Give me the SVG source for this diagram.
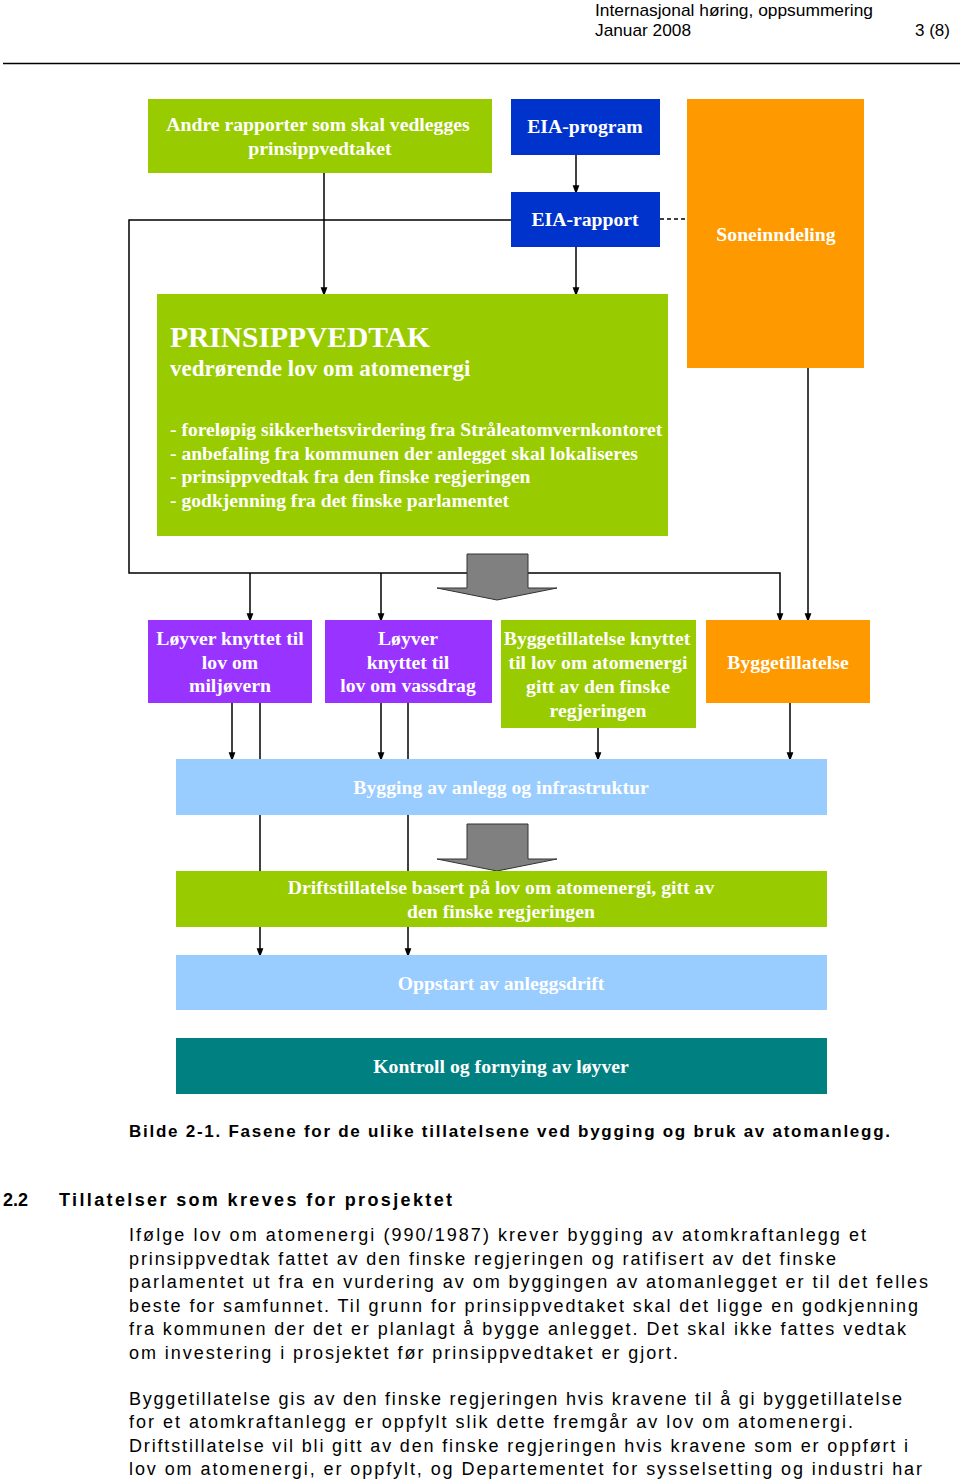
<svg xmlns="http://www.w3.org/2000/svg" width="960" height="1483" viewBox="0 0 960 1483">
<style>
.hdr{font-family:"Liberation Sans",Arial,sans-serif;font-size:17px;fill:#000}
.bx{font-family:"Liberation Serif","Times New Roman",serif;font-weight:bold;font-size:19.7px;fill:#fff;text-anchor:middle}
.bl{font-family:"Liberation Serif","Times New Roman",serif;font-weight:bold;font-size:19.6px;fill:#fff}
.ttl{font-family:"Liberation Serif","Times New Roman",serif;font-weight:bold;font-size:29.5px;fill:#fff}
.sub{font-family:"Liberation Serif","Times New Roman",serif;font-weight:bold;font-size:23px;fill:#fff}
.ln{stroke:#000;stroke-width:1.5;fill:none}
.ar{stroke:#000;stroke-width:1.5;fill:none;marker-end:url(#ah)}
.blk{fill:#808080;stroke:#333;stroke-width:1}
.body{font-family:"Liberation Sans",Arial,sans-serif;font-size:18px;fill:#000}
.cap{font-family:"Liberation Sans",Arial,sans-serif;font-size:17px;font-weight:bold;fill:#000}
.h2{font-family:"Liberation Sans",Arial,sans-serif;font-size:18px;font-weight:bold;fill:#000}
.green{fill:#99CC00}.blue{fill:#0033CC}.orange{fill:#FF9900}.purple{fill:#9933FF}.lblue{fill:#99CCFF}.teal{fill:#008080}
</style>
<defs>
<marker id="ah" markerUnits="userSpaceOnUse" markerWidth="9" markerHeight="12" refX="9" refY="4.5" orient="auto" viewBox="0 0 12 9">
<path d="M0,0 L12,4.5 L0,9 z" fill="#000"/>
</marker>
</defs>
<rect width="960" height="1483" fill="#fff"/>
<g id="header">
<text class="hdr" x="595" y="16" textLength="278" lengthAdjust="spacingAndGlyphs">Internasjonal høring, oppsummering</text>
<text class="hdr" x="595" y="36" textLength="96" lengthAdjust="spacingAndGlyphs">Januar 2008</text>
<text class="hdr" x="950" y="36" text-anchor="end">3 (8)</text>
<line x1="3" y1="63.5" x2="960" y2="63.5" stroke="#000" stroke-width="1.5"/>
</g>
<g id="connectors">
<line class="ar" x1="576" y1="155" x2="576" y2="192"/>
<line class="ar" x1="324" y1="173" x2="324" y2="294"/>
<line class="ar" x1="576" y1="247" x2="576" y2="294"/>
<line class="ln" x1="660" y1="219" x2="687" y2="219" stroke-dasharray="4,3"/>
<path class="ar" d="M511,220 H129 V573 H780 V620"/>
<line class="ar" x1="250" y1="573" x2="250" y2="620"/>
<line class="ar" x1="381" y1="573" x2="381" y2="620"/>
<line class="ar" x1="808" y1="368" x2="808" y2="620"/>
<line class="ar" x1="232" y1="703" x2="232" y2="759"/>
<line class="ar" x1="260" y1="703" x2="260" y2="955"/>
<line class="ar" x1="381" y1="703" x2="381" y2="759"/>
<line class="ar" x1="408" y1="703" x2="408" y2="955"/>
<line class="ar" x1="598" y1="728" x2="598" y2="759"/>
<line class="ar" x1="790" y1="703" x2="790" y2="759"/>
<polygon class="blk" points="467,554 528,554 528,588 557,588 497,600 437,588 467,588"/>
<polygon class="blk" points="467,824 528,824 528,859 557,859 497,871 437,859 467,859"/>
</g>
<g id="n-andre">
<rect class="green" x="148" y="99" width="344" height="74"/>
<text class="bx" x="318" y="131">Andre rapporter som skal vedlegges</text>
<text class="bx" x="320" y="155">prinsippvedtaket</text>
</g>
<g id="n-eiaprogram">
<rect class="blue" x="511" y="99" width="149" height="56"/>
<text class="bx" x="585" y="133">EIA-program</text>
</g>
<g id="n-eiarapport">
<rect class="blue" x="511" y="192" width="149" height="55"/>
<text class="bx" x="585" y="226">EIA-rapport</text>
</g>
<g id="n-sone">
<rect class="orange" x="687" y="99" width="177" height="269"/>
<text class="bx" x="776" y="241">Soneinndeling</text>
</g>
<g id="n-prinsipp">
<rect class="green" x="157" y="294" width="511" height="242"/>
<text class="ttl" x="170" y="347">PRINSIPPVEDTAK</text>
<text class="sub" x="170" y="376">vedrørende lov om atomenergi</text>
<text class="bl" x="170" y="436">- foreløpig sikkerhetsvirdering fra Stråleatomvernkontoret</text>
<text class="bl" x="170" y="460">- anbefaling fra kommunen der anlegget skal lokaliseres</text>
<text class="bl" x="170" y="483">- prinsippvedtak fra den finske regjeringen</text>
<text class="bl" x="170" y="507">- godkjenning fra det finske parlamentet</text>
</g>
<g id="n-miljo">
<rect class="purple" x="148" y="620" width="164" height="83"/>
<text class="bx" x="230" y="645">Løyver knyttet til</text>
<text class="bx" x="230" y="669">lov om</text>
<text class="bx" x="230" y="692">miljøvern</text>
</g>
<g id="n-vassdrag">
<rect class="purple" x="325" y="620" width="167" height="83"/>
<text class="bx" x="408" y="645">Løyver</text>
<text class="bx" x="408" y="669">knyttet til</text>
<text class="bx" x="408" y="692">lov om vassdrag</text>
</g>
<g id="n-byggatom">
<rect class="green" x="501" y="620" width="195" height="108"/>
<text class="bx" x="597" y="645">Byggetillatelse knyttet</text>
<text class="bx" x="598" y="669">til lov om atomenergi</text>
<text class="bx" x="598" y="693">gitt av den finske</text>
<text class="bx" x="598" y="717">regjeringen</text>
</g>
<g id="n-bygg">
<rect class="orange" x="706" y="620" width="164" height="83"/>
<text class="bx" x="788" y="669">Byggetillatelse</text>
</g>
<g id="n-bygging">
<rect class="lblue" x="176" y="759" width="651" height="56"/>
<text class="bx" x="501" y="794">Bygging av anlegg og infrastruktur</text>
</g>
<g id="n-drift">
<rect class="green" x="176" y="871" width="651" height="56"/>
<text class="bx" x="501" y="894">Driftstillatelse basert på lov om atomenergi, gitt av</text>
<text class="bx" x="501" y="918">den finske regjeringen</text>
</g>
<g id="n-oppstart">
<rect class="lblue" x="176" y="955" width="651" height="55"/>
<text class="bx" x="501" y="990">Oppstart av anleggsdrift</text>
</g>
<g id="n-kontroll">
<rect class="teal" x="176" y="1038" width="651" height="56"/>
<text class="bx" x="501" y="1073">Kontroll og fornying av løyver</text>
</g>
<g id="text">
<text class="cap" x="129" y="1137" textLength="761" lengthAdjust="spacing">Bilde 2-1. Fasene for de ulike tillatelsene ved bygging og bruk av atomanlegg.</text>
<text class="h2" x="3" y="1206">2.2</text>
<text class="h2" x="59" y="1206" textLength="393" lengthAdjust="spacing">Tillatelser som kreves for prosjektet</text>
<text class="body" x="129" y="1241" textLength="737" lengthAdjust="spacing">Ifølge lov om atomenergi (990/1987) krever bygging av atomkraftanlegg et</text>
<text class="body" x="129" y="1265" textLength="707" lengthAdjust="spacing">prinsippvedtak fattet av den finske regjeringen og ratifisert av det finske</text>
<text class="body" x="129" y="1288" textLength="799" lengthAdjust="spacing">parlamentet ut fra en vurdering av om byggingen av atomanlegget er til det felles</text>
<text class="body" x="129" y="1312" textLength="789" lengthAdjust="spacing">beste for samfunnet. Til grunn for prinsippvedtaket skal det ligge en godkjenning</text>
<text class="body" x="129" y="1335" textLength="777" lengthAdjust="spacing">fra kommunen der det er planlagt å bygge anlegget. Det skal ikke fattes vedtak</text>
<text class="body" x="129" y="1359" textLength="549" lengthAdjust="spacing">om investering i prosjektet før prinsippvedtaket er gjort.</text>
<text class="body" x="129" y="1405" textLength="773" lengthAdjust="spacing">Byggetillatelse gis av den finske regjeringen hvis kravene til å gi byggetillatelse</text>
<text class="body" x="129" y="1428" textLength="724" lengthAdjust="spacing">for et atomkraftanlegg er oppfylt slik dette fremgår av lov om atomenergi.</text>
<text class="body" x="129" y="1452" textLength="779" lengthAdjust="spacing">Driftstillatelse vil bli gitt av den finske regjeringen hvis kravene som er oppført i</text>
<text class="body" x="129" y="1475" textLength="793" lengthAdjust="spacing">lov om atomenergi, er oppfylt, og Departementet for sysselsetting og industri har</text>
</g>
</svg>
